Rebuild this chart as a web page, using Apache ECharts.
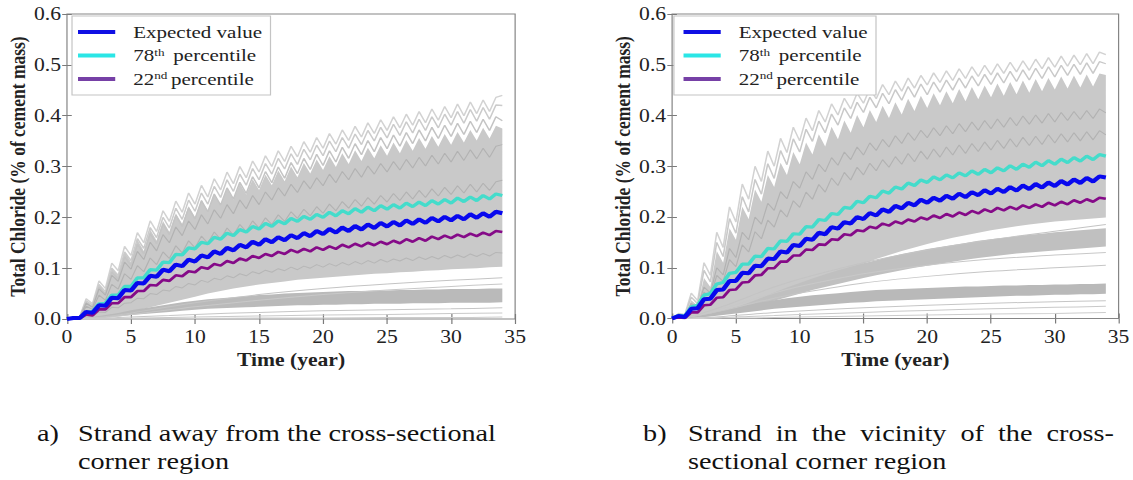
<!DOCTYPE html>
<html>
<head>
<meta charset="utf-8">
<script src="https://cdn.jsdelivr.net/npm/echarts@6/dist/echarts.min.js"></script>
<style>
  html, body { margin: 0; padding: 0; background: #fff; overflow: hidden; }
  #wrap { width: 1133px; height: 480px; overflow: hidden; position: relative; }
  /* the figure is laid out on a 944px canvas and widened to the page */
  #chart { width: 944px; height: 480px; transform: scaleX(1.20021); transform-origin: 0 0; }
</style>
</head>
<body>
<div id="wrap"><div id="chart"></div></div>
<script>
// ---------- time grids (years) ----------
const years = [0,0.5,1,1.5,2,2.5,3,3.5,4,4.5,5,5.5,6,6.5,7,7.5,8,8.5,9,9.5,10,10.5,11,11.5,12,12.5,13,13.5,14,14.5,15,15.5,16,16.5,17,17.5,18,18.5,19,19.5,20,20.5,21,21.5,22,22.5,23,23.5,24,24.5,25,25.5,26,26.5,27,27.5,28,28.5,29,29.5,30,30.5,31,31.5,32,32.5,33,33.5,34];
const annual = [0,1,2,3,4,5,6,7,8,9,10,11,12,13,14,15,16,17,18,19,20,21,22,23,24,25,26,27,28,29,30,31,32,33,34];
const coarse = [0,2,4,6,8,10,15,20,25,30,34];

// ---------- axis ticks ----------
const xTicks = [0,5,10,15,20,25,30,35];
const yTicks = [0,0.1,0.2,0.3,0.4,0.5,0.6];

// ---------- legend / caption text ----------
const legendNames = ['Expected value','78th percentile','22nd percentile'];
const captionA = ['a)','Strand away from the cross-sectional','corner region'];
const captionB = ['b)','Strand\u00a0\u00a0in\u00a0\u00a0the\u00a0\u00a0vicinity\u00a0\u00a0of\u00a0\u00a0the\u00a0\u00a0cross-','sectional corner region'];

// ================= (a) strand away from the corner =================
const aExpected = [0,
 0.002,0.002, 0.014,0.012, 0.027,0.026, 0.042,0.041, 0.057,0.056,
 0.071,0.07, 0.085,0.083, 0.097,0.094, 0.107,0.104, 0.117,0.113,
 0.125,0.121, 0.133,0.128, 0.14,0.135, 0.146,0.141, 0.152,0.146,
 0.157,0.151, 0.161,0.155, 0.165,0.159, 0.169,0.163, 0.173,0.167,
 0.177,0.17, 0.18,0.173, 0.183,0.176, 0.186,0.179, 0.189,0.182,
 0.191,0.184, 0.194,0.187, 0.196,0.189, 0.199,0.192, 0.201,0.194,
 0.203,0.196, 0.206,0.199, 0.208,0.201, 0.211,0.208];
const aP78 = [0,
 0.002,0.003, 0.013,0.015, 0.03,0.031, 0.047,0.047, 0.064,0.064,
 0.081,0.081, 0.097,0.096, 0.112,0.111, 0.127,0.126, 0.14,0.138,
 0.151,0.148, 0.161,0.157, 0.169,0.164, 0.176,0.171, 0.182,0.177,
 0.188,0.182, 0.193,0.187, 0.198,0.192, 0.202,0.196, 0.206,0.2,
 0.21,0.203, 0.213,0.207, 0.217,0.21, 0.22,0.213, 0.223,0.216,
 0.225,0.218, 0.228,0.221, 0.23,0.223, 0.233,0.226, 0.235,0.228,
 0.238,0.231, 0.24,0.233, 0.243,0.236, 0.246,0.243];
const aP22 = [0,
 0.001,0.001, 0.009,0.007, 0.019,0.019, 0.031,0.031, 0.043,0.043,
 0.055,0.055, 0.067,0.066, 0.077,0.075, 0.086,0.084, 0.094,0.092,
 0.102,0.099, 0.108,0.105, 0.114,0.11, 0.119,0.115, 0.124,0.12,
 0.128,0.124, 0.132,0.128, 0.136,0.131, 0.138,0.133, 0.141,0.136,
 0.143,0.138, 0.146,0.141, 0.148,0.143, 0.15,0.145, 0.152,0.147,
 0.154,0.149, 0.157,0.152, 0.159,0.154, 0.162,0.157, 0.164,0.159,
 0.166,0.161, 0.168,0.163, 0.17,0.165, 0.173,0.171];
// simulated realisations (seasonal zigzag)
const aRun1 = [0,
 0.004,0.005, 0.04,0.03, 0.075,0.06, 0.11,0.095, 0.143,0.125,
 0.17,0.15, 0.193,0.172, 0.213,0.192, 0.232,0.21, 0.248,0.226,
 0.263,0.24, 0.276,0.254, 0.289,0.266, 0.3,0.278, 0.311,0.289,
 0.321,0.3, 0.331,0.31, 0.34,0.319, 0.349,0.328, 0.357,0.336,
 0.365,0.344, 0.372,0.351, 0.379,0.358, 0.386,0.365, 0.392,0.371,
 0.398,0.376, 0.403,0.381, 0.408,0.386, 0.413,0.391, 0.418,0.396,
 0.423,0.4, 0.427,0.404, 0.431,0.408, 0.436,0.44];
const aRun2 = [0,
 0.004,0.004, 0.036,0.027, 0.068,0.054, 0.1,0.086, 0.132,0.115,
 0.158,0.139, 0.18,0.16, 0.2,0.179, 0.218,0.196, 0.234,0.212,
 0.248,0.226, 0.261,0.239, 0.274,0.251, 0.285,0.263, 0.296,0.274,
 0.306,0.285, 0.316,0.295, 0.325,0.304, 0.334,0.313, 0.342,0.321,
 0.35,0.329, 0.357,0.336, 0.364,0.343, 0.371,0.35, 0.377,0.356,
 0.383,0.361, 0.388,0.366, 0.393,0.371, 0.398,0.376, 0.403,0.381,
 0.408,0.385, 0.412,0.389, 0.416,0.393, 0.421,0.42];
const aRun3 = [0,
 0.003,0.004, 0.032,0.024, 0.062,0.049, 0.092,0.078, 0.122,0.105,
 0.147,0.128, 0.168,0.148, 0.187,0.166, 0.204,0.182, 0.219,0.197,
 0.233,0.211, 0.246,0.224, 0.258,0.236, 0.269,0.247, 0.28,0.258,
 0.29,0.268, 0.299,0.277, 0.308,0.286, 0.316,0.294, 0.324,0.302,
 0.331,0.309, 0.338,0.316, 0.345,0.323, 0.351,0.329, 0.357,0.335,
 0.362,0.34, 0.367,0.345, 0.372,0.35, 0.377,0.355, 0.381,0.359,
 0.385,0.363, 0.389,0.367, 0.393,0.371, 0.398,0.39];
// top edge of the dense bundle
const aRun4 = [0,
 0.003,0.004, 0.035,0.025, 0.068,0.052, 0.1,0.085, 0.132,0.112,
 0.156,0.134, 0.176,0.154, 0.193,0.171, 0.208,0.187, 0.222,0.2,
 0.234,0.213, 0.245,0.224, 0.256,0.235, 0.266,0.245, 0.275,0.254,
 0.284,0.263, 0.292,0.271, 0.3,0.279, 0.307,0.286, 0.314,0.293,
 0.32,0.299, 0.326,0.305, 0.332,0.311, 0.337,0.316, 0.342,0.321,
 0.347,0.326, 0.352,0.331, 0.356,0.335, 0.36,0.339, 0.364,0.343,
 0.368,0.347, 0.372,0.351, 0.376,0.355, 0.38,0.375];
const aRun5 = [0,
 0.003,0.004, 0.031,0.023, 0.059,0.047, 0.086,0.074, 0.112,0.098,
 0.133,0.117, 0.151,0.134, 0.166,0.15, 0.181,0.164, 0.193,0.176,
 0.205,0.187, 0.215,0.198, 0.225,0.207, 0.234,0.217, 0.243,0.225,
 0.25,0.234, 0.258,0.242, 0.265,0.249, 0.272,0.256, 0.278,0.262,
 0.285,0.268, 0.29,0.274, 0.296,0.279, 0.301,0.285, 0.306,0.289,
 0.31,0.293, 0.314,0.297, 0.318,0.301, 0.322,0.305, 0.326,0.309,
 0.33,0.312, 0.333,0.315, 0.336,0.318, 0.34,0.343];
const aRun6 = [0,
 0.002,0.003, 0.025,0.019, 0.047,0.037, 0.068,0.059, 0.089,0.078,
 0.105,0.093, 0.12,0.107, 0.132,0.119, 0.144,0.13, 0.154,0.14,
 0.163,0.149, 0.171,0.157, 0.179,0.165, 0.186,0.172, 0.193,0.179,
 0.199,0.186, 0.205,0.192, 0.211,0.198, 0.216,0.203, 0.221,0.208,
 0.226,0.213, 0.231,0.218, 0.235,0.222, 0.239,0.226, 0.243,0.23,
 0.247,0.233, 0.25,0.236, 0.253,0.239, 0.256,0.242, 0.259,0.245,
 0.262,0.248, 0.265,0.25, 0.267,0.253, 0.27,0.273];
const aRun7 = [0,
 0.001,0.001, 0.006,0.005, 0.014,0.013, 0.023,0.022, 0.031,0.032,
 0.041,0.04, 0.05,0.048, 0.057,0.055, 0.064,0.061, 0.07,0.067,
 0.076,0.072, 0.08,0.077, 0.085,0.081, 0.089,0.085, 0.093,0.089,
 0.096,0.092, 0.099,0.095, 0.102,0.097, 0.104,0.1, 0.107,0.102,
 0.109,0.104, 0.111,0.106, 0.113,0.108, 0.115,0.11, 0.117,0.112,
 0.118,0.114, 0.12,0.115, 0.122,0.117, 0.123,0.118, 0.125,0.12,
 0.126,0.121, 0.128,0.123, 0.129,0.124, 0.131,0.13];
// lower edges of the dense bundles (per year)
const aUpperLo = [0,0,0.003,0.006,0.01,0.015,0.02,0.026,0.032,0.038,0.044,0.05,0.055,0.06,0.064,0.068,0.071,0.074,0.077,0.079,0.081,0.083,0.085,0.087,0.089,0.09,0.092,0.093,0.095,0.096,0.098,0.099,0.1,0.102,0.103];
const aLowerHi = [0,0.001,0.004,0.008,0.012,0.017,0.021,0.025,0.029,0.033,0.036,0.039,0.041,0.043,0.045,0.047,0.048,0.05,0.051,0.052,0.053,0.054,0.055,0.055,0.056,0.056,0.057,0.057,0.058,0.058,0.059,0.059,0.059,0.06,0.06];
const aLowerLo = [0,0,0.001,0.003,0.005,0.008,0.01,0.012,0.014,0.016,0.018,0.02,0.021,0.022,0.023,0.024,0.025,0.026,0.027,0.027,0.028,0.028,0.029,0.029,0.03,0.03,0.03,0.031,0.031,0.031,0.032,0.032,0.032,0.032,0.033];
// slow realisations (on the coarse grid)
const aSlow1 = [0,0.002,0.008,0.016,0.024,0.032,0.048,0.06,0.069,0.076,0.081];
const aSlow2 = [0,0.002,0.006,0.012,0.018,0.024,0.037,0.048,0.057,0.064,0.069];
const aSlow3 = [0,0.001,0.003,0.005,0.007,0.009,0.013,0.016,0.018,0.02,0.022];
const aSlow4 = [0,0,0.001,0.002,0.003,0.004,0.006,0.008,0.009,0.011,0.012];
const aSlow5 = [0,0,0,0,0.001,0.001,0.002,0.002,0.003,0.003,0.004];

// ================= (b) strand near the corner =================
const bExpected = [0,
 0.005,0.003, 0.019,0.02, 0.038,0.039, 0.056,0.057, 0.074,0.074,
 0.09,0.089, 0.104,0.103, 0.118,0.117, 0.132,0.13, 0.145,0.143,
 0.157,0.155, 0.169,0.166, 0.18,0.177, 0.19,0.187, 0.2,0.196,
 0.208,0.203, 0.215,0.21, 0.222,0.217, 0.228,0.223, 0.234,0.228,
 0.238,0.232, 0.242,0.236, 0.246,0.239, 0.249,0.243, 0.253,0.246,
 0.256,0.249, 0.259,0.252, 0.262,0.255, 0.265,0.258, 0.268,0.261,
 0.271,0.264, 0.274,0.267, 0.277,0.27, 0.28,0.278];
const bP78 = [0,
 0.006,0.005, 0.023,0.026, 0.046,0.049, 0.068,0.071, 0.089,0.091,
 0.107,0.107, 0.123,0.122, 0.138,0.137, 0.153,0.152, 0.167,0.166,
 0.181,0.18, 0.195,0.193, 0.207,0.205, 0.219,0.217, 0.231,0.228,
 0.241,0.238, 0.251,0.247, 0.259,0.255, 0.267,0.262, 0.273,0.268,
 0.279,0.273, 0.283,0.277, 0.287,0.281, 0.291,0.284, 0.294,0.287,
 0.297,0.291, 0.301,0.294, 0.304,0.298, 0.308,0.301, 0.311,0.304,
 0.314,0.307, 0.317,0.31, 0.32,0.313, 0.323,0.32];
const bP22 = [0,
 0.002,0.001, 0.012,0.012, 0.026,0.027, 0.041,0.042, 0.056,0.057,
 0.071,0.072, 0.085,0.086, 0.099,0.099, 0.112,0.112, 0.124,0.124,
 0.136,0.135, 0.146,0.145, 0.156,0.155, 0.166,0.164, 0.174,0.172,
 0.181,0.178, 0.187,0.183, 0.191,0.187, 0.195,0.191, 0.199,0.195,
 0.203,0.198, 0.206,0.201, 0.209,0.204, 0.212,0.207, 0.215,0.21,
 0.218,0.213, 0.22,0.215, 0.223,0.218, 0.225,0.22, 0.228,0.223,
 0.23,0.225, 0.233,0.228, 0.235,0.23, 0.238,0.236];
const bRun1 = [0,
 0.01,0.008, 0.05,0.035, 0.11,0.085, 0.17,0.14, 0.22,0.19,
 0.265,0.235, 0.3,0.27, 0.33,0.3, 0.355,0.327, 0.377,0.35,
 0.395,0.37, 0.41,0.387, 0.423,0.401, 0.434,0.413, 0.444,0.424,
 0.453,0.433, 0.461,0.441, 0.468,0.448, 0.474,0.454, 0.479,0.46,
 0.484,0.465, 0.488,0.469, 0.492,0.473, 0.496,0.477, 0.499,0.48,
 0.502,0.483, 0.505,0.486, 0.508,0.489, 0.511,0.492, 0.514,0.495,
 0.517,0.497, 0.519,0.5, 0.522,0.502, 0.525,0.52];
const bRun2 = [0,
 0.008,0.006, 0.042,0.029, 0.095,0.072, 0.15,0.122, 0.197,0.168,
 0.24,0.21, 0.274,0.245, 0.305,0.276, 0.331,0.303, 0.354,0.328,
 0.373,0.349, 0.389,0.366, 0.403,0.381, 0.415,0.394, 0.426,0.406,
 0.436,0.415, 0.444,0.423, 0.451,0.43, 0.457,0.436, 0.462,0.441,
 0.466,0.446, 0.47,0.45, 0.474,0.454, 0.478,0.458, 0.481,0.461,
 0.484,0.464, 0.487,0.467, 0.49,0.47, 0.493,0.473, 0.496,0.476,
 0.499,0.479, 0.501,0.481, 0.504,0.483, 0.506,0.502];
// top edge of the dense bundle
const bRun3 = [0,
 0.006,0.005, 0.036,0.025, 0.08,0.062, 0.133,0.11, 0.178,0.155,
 0.22,0.196, 0.254,0.23, 0.283,0.259, 0.307,0.283, 0.328,0.304,
 0.347,0.323, 0.363,0.339, 0.378,0.353, 0.39,0.366, 0.401,0.377,
 0.411,0.387, 0.419,0.395, 0.426,0.402, 0.433,0.409, 0.439,0.415,
 0.444,0.42, 0.448,0.424, 0.452,0.428, 0.456,0.432, 0.459,0.436,
 0.463,0.439, 0.466,0.442, 0.469,0.445, 0.472,0.448, 0.474,0.451,
 0.477,0.453, 0.479,0.455, 0.481,0.457, 0.483,0.48];
const bRun4 = [0,
 0.005,0.004, 0.03,0.022, 0.062,0.05, 0.1,0.086, 0.138,0.12,
 0.17,0.155, 0.2,0.186, 0.227,0.213, 0.25,0.236, 0.27,0.257,
 0.289,0.274, 0.304,0.289, 0.317,0.302, 0.328,0.313, 0.338,0.322,
 0.346,0.331, 0.353,0.338, 0.36,0.345, 0.366,0.351, 0.371,0.356,
 0.376,0.36, 0.38,0.364, 0.384,0.368, 0.387,0.371, 0.39,0.374,
 0.393,0.377, 0.396,0.38, 0.399,0.383, 0.401,0.385, 0.404,0.387,
 0.406,0.39, 0.408,0.392, 0.41,0.394, 0.413,0.405];
const bRun5 = [0,
 0.004,0.003, 0.025,0.018, 0.052,0.042, 0.085,0.073, 0.116,0.102,
 0.145,0.131, 0.171,0.157, 0.194,0.18, 0.214,0.2, 0.232,0.219,
 0.249,0.235, 0.264,0.249, 0.277,0.262, 0.288,0.273, 0.298,0.283,
 0.306,0.291, 0.313,0.298, 0.319,0.304, 0.325,0.309, 0.33,0.314,
 0.334,0.318, 0.338,0.322, 0.342,0.325, 0.345,0.329, 0.348,0.332,
 0.351,0.335, 0.354,0.338, 0.357,0.341, 0.359,0.343, 0.362,0.346,
 0.364,0.348, 0.366,0.35, 0.368,0.352, 0.37,0.362];
const bUpperLo = [0,0,0.003,0.007,0.012,0.018,0.025,0.033,0.042,0.051,0.06,0.07,0.08,0.09,0.099,0.108,0.117,0.125,0.133,0.14,0.147,0.153,0.159,0.164,0.169,0.174,0.178,0.182,0.185,0.188,0.191,0.193,0.195,0.197,0.199];
const bMidHi = [0,0,0.003,0.008,0.014,0.022,0.031,0.041,0.051,0.061,0.07,0.079,0.087,0.095,0.102,0.109,0.115,0.121,0.127,0.132,0.137,0.141,0.145,0.149,0.153,0.156,0.159,0.162,0.165,0.167,0.17,0.172,0.174,0.176,0.178];
const bMidLo = [0,0,0.002,0.005,0.009,0.015,0.021,0.028,0.035,0.042,0.049,0.056,0.062,0.068,0.074,0.08,0.085,0.09,0.095,0.1,0.104,0.108,0.112,0.116,0.119,0.122,0.125,0.128,0.13,0.132,0.134,0.136,0.138,0.14,0.142];
const bLowHi = [0,0.001,0.005,0.01,0.016,0.022,0.027,0.032,0.036,0.04,0.043,0.046,0.048,0.05,0.052,0.054,0.056,0.057,0.058,0.059,0.06,0.061,0.062,0.063,0.063,0.064,0.065,0.065,0.066,0.066,0.067,0.067,0.068,0.068,0.069];
const bLowLo = [0,0,0.002,0.004,0.007,0.01,0.013,0.016,0.019,0.021,0.023,0.025,0.027,0.029,0.031,0.032,0.034,0.035,0.036,0.037,0.038,0.039,0.04,0.041,0.042,0.043,0.044,0.045,0.045,0.046,0.047,0.047,0.048,0.048,0.049];
const bSlow1 = [0,0.006,0.016,0.028,0.04,0.05,0.07,0.083,0.093,0.1,0.105];
const bSlow2 = [0,0.007,0.02,0.035,0.05,0.063,0.088,0.105,0.117,0.125,0.13];
const bSlow3 = [0,0.008,0.024,0.043,0.062,0.078,0.11,0.135,0.155,0.172,0.185];
const bSlow4 = [0,0.001,0.004,0.008,0.012,0.015,0.021,0.026,0.03,0.033,0.035];
const bSlow5 = [0,0.001,0.002,0.004,0.006,0.008,0.012,0.016,0.019,0.022,0.024];
const bSlow6 = [0,0,0.001,0.001,0.002,0.003,0.005,0.007,0.009,0.01,0.012];

// ---------- styling ----------
const SERIF = 'Liberation Serif';
const TEXT = '#222';
const AXIS = '#7a7a7a';
const BLUE = '#0808ee';
const CYAN = '#44dccb';
const PURPLE = '#850a88';
const LEGEND_COLORS = { 'Expected value': '#1010e4', '78th percentile': '#2ae6e6', '22nd percentile': '#7640a6' };

function pairs(xs, ys) { return xs.map((x, i) => [x, ys[i]]); }

function runLine(g, xs, ys, color, width, smooth) {
  return {
    type: 'line', xAxisIndex: g * 2, yAxisIndex: g * 2,
    data: pairs(xs, ys), symbol: 'none', smooth: smooth ? 0.3 : false,
    lineStyle: { color: color, width: width }, z: 3, silent: true, animation: false
  };
}

// filled bundle between a lower and an upper edge (edges may use different time grids)
function bundle(g, xsHi, hi, xsLo, lo, color) {
  return {
    type: 'custom', coordinateSystem: 'cartesian2d', xAxisIndex: g * 2, yAxisIndex: g * 2,
    data: [[xsLo[0], lo[0]]], z: 2, silent: true, animation: false,
    renderItem: function (params, api) {
      const pts = [];
      for (let i = 0; i < xsHi.length; i++) pts.push(api.coord([xsHi[i], hi[i]]));
      for (let i = xsLo.length - 1; i >= 0; i--) pts.push(api.coord([xsLo[i], lo[i]]));
      return { type: 'polygon', shape: { points: pts }, style: { fill: color } };
    }
  };
}

function keyLine(g, name, ys, color, width, z) {
  return {
    type: 'line', name: name, xAxisIndex: g * 2, yAxisIndex: g * 2,
    data: pairs(years, ys), symbol: 'none', lineStyle: { color: color, width: width },
    itemStyle: { color: LEGEND_COLORS[name] }, z: z, silent: true, animation: false
  };
}

const series = [
  // panel (a)
  bundle(0, years, aRun4, annual, aUpperLo, '#c9c9c9'),
  bundle(0, annual, aLowerHi, annual, aLowerLo, '#bababa'),
  runLine(0, coarse, aSlow1, '#c4c4c4', 1, true),
  runLine(0, coarse, aSlow2, '#c8c8c8', 1, true),
  runLine(0, coarse, aSlow3, '#c6c6c6', 1, true),
  runLine(0, coarse, aSlow4, '#c9c9c9', 1, true),
  runLine(0, coarse, aSlow5, '#cccccc', 1, true),
  runLine(0, years, aRun1, '#d2d2d2', 1.3),
  runLine(0, years, aRun2, '#cbcbcb', 1.3),
  runLine(0, years, aRun3, '#c4c4c4', 1.3),
  runLine(0, years, aRun5, '#b2b2b2', 1),
  runLine(0, years, aRun6, '#b2b2b2', 1),
  runLine(0, years, aRun7, '#b6b6b6', 1),
  keyLine(0, '78th percentile', aP78, CYAN, 3.2, 6),
  keyLine(0, '22nd percentile', aP22, PURPLE, 2.6, 6),
  keyLine(0, 'Expected value', aExpected, BLUE, 4, 7),
  // panel (b)
  bundle(1, years, bRun3, annual, bUpperLo, '#c9c9c9'),
  bundle(1, annual, bMidHi, annual, bMidLo, '#c0c0c0'),
  bundle(1, annual, bLowHi, annual, bLowLo, '#b9b9b9'),
  runLine(1, coarse, bSlow1, '#c6c6c6', 1, true),
  runLine(1, coarse, bSlow2, '#c8c8c8', 1, true),
  runLine(1, coarse, bSlow3, '#c4c4c4', 1, true),
  runLine(1, coarse, bSlow4, '#c6c6c6', 1, true),
  runLine(1, coarse, bSlow5, '#c9c9c9', 1, true),
  runLine(1, coarse, bSlow6, '#cccccc', 1, true),
  runLine(1, years, bRun1, '#d2d2d2', 1.3),
  runLine(1, years, bRun2, '#c9c9c9', 1.3),
  runLine(1, years, bRun4, '#b2b2b2', 1),
  runLine(1, years, bRun5, '#b2b2b2', 1),
  keyLine(1, '78th percentile', bP78, CYAN, 3.2, 6),
  keyLine(1, '22nd percentile', bP22, PURPLE, 2.6, 6),
  keyLine(1, 'Expected value', bExpected, BLUE, 4, 7)
];

// ---------- axes ----------
function xAxis(g, pos) {
  const bottom = pos === 'bottom';
  return {
    type: 'value', gridIndex: g, position: pos,
    min: xTicks[0], max: xTicks[xTicks.length - 1], interval: xTicks[1] - xTicks[0],
    axisLine: { show: false },
    axisTick: { inside: true, length: 5, lineStyle: { color: AXIS } },
    axisLabel: bottom ? { fontFamily: SERIF, fontSize: 18, color: TEXT, margin: 9 } : { show: false },
    splitLine: { show: false },
    name: bottom ? 'Time (year)' : '', nameLocation: 'middle', nameGap: 30,
    nameTextStyle: { fontFamily: SERIF, fontWeight: 'bold', fontSize: 18, color: TEXT }
  };
}
function yAxis(g, pos) {
  const left = pos === 'left';
  return {
    type: 'value', gridIndex: g, position: pos,
    min: yTicks[0], max: yTicks[yTicks.length - 1], interval: 0.1,
    axisLine: { show: false },
    axisTick: { inside: true, length: 4, lineStyle: { color: AXIS } },
    axisLabel: left ? { fontFamily: SERIF, fontSize: 18, color: TEXT, margin: 5, formatter: v => v.toFixed(1) } : { show: false },
    splitLine: { show: false },
    name: left ? 'Total Chloride (% of cement mass)' : '', nameLocation: 'middle', nameGap: 32,
    nameTextStyle: { fontFamily: SERIF, fontWeight: 'bold', fontSize: 17.5, color: TEXT }
  };
}

// ---------- legends ----------
const legendLabel = {
  'Expected value': '{t|Expected value}',
  '78th percentile': '{t|78}{s|th}{t| percentile}',
  '22nd percentile': '{t|22}{s|nd}{t|percentile}'
};
function legend(left, padLeft) {
  return {
    left: left, top: 16, orient: 'vertical', icon: 'rect',
    itemWidth: 31, itemHeight: 4, itemGap: 5.5,
    padding: [7, 7, 7, padLeft],
    backgroundColor: '#fff', borderColor: '#c4c4c4', borderWidth: 1,
    selectedMode: false,
    data: legendNames.map(n => ({ name: n, itemStyle: { color: LEGEND_COLORS[n] } })),
    formatter: n => legendLabel[n],
    textStyle: {
      fontFamily: SERIF, fontSize: 17.5, color: TEXT, padding: [0, 0, 0, 10],
      rich: {
        t: { fontFamily: SERIF, fontSize: 17.5, color: TEXT },
        s: { fontFamily: SERIF, fontSize: 11, color: TEXT, padding: [0, 3, 7, 0] }
      }
    }
  };
}

// ---------- captions ----------
function caption(x, y, text) {
  return { type: 'text', x: x, y: y, silent: true,
    style: { text: text, fontFamily: SERIF, fontSize: 23.5, fill: '#111', verticalAlign: 'middle' } };
}

const option = {
  animation: false,
  backgroundColor: '#fff',
  textStyle: { fontFamily: SERIF },
  grid: [
    { left: 55.8, top: 14, width: 373.4, height: 305, show: true, borderColor: '#858585', borderWidth: 1, backgroundColor: 'transparent' },
    { left: 560, top: 14, width: 372.5, height: 304.5, show: true, borderColor: '#858585', borderWidth: 1, backgroundColor: 'transparent' }
  ],
  xAxis: [xAxis(0, 'bottom'), xAxis(0, 'top'), xAxis(1, 'bottom'), xAxis(1, 'top')],
  yAxis: [yAxis(0, 'left'), yAxis(0, 'right'), yAxis(1, 'left'), yAxis(1, 'right')],
  legend: [legend(60, 5), legend(561.5, 8)],
  graphic: [
    caption(30.8, 433, captionA[0]), caption(65, 433, captionA[1]), caption(65, 461, captionA[2]),
    caption(535.8, 433, captionB[0]), caption(573.3, 433, captionB[1]), caption(573.3, 461, captionB[2])
  ],
  series: series
};

const chart = echarts.init(document.getElementById('chart'), null, { renderer: 'svg' });
chart.setOption(option);
</script>
</body>
</html>
